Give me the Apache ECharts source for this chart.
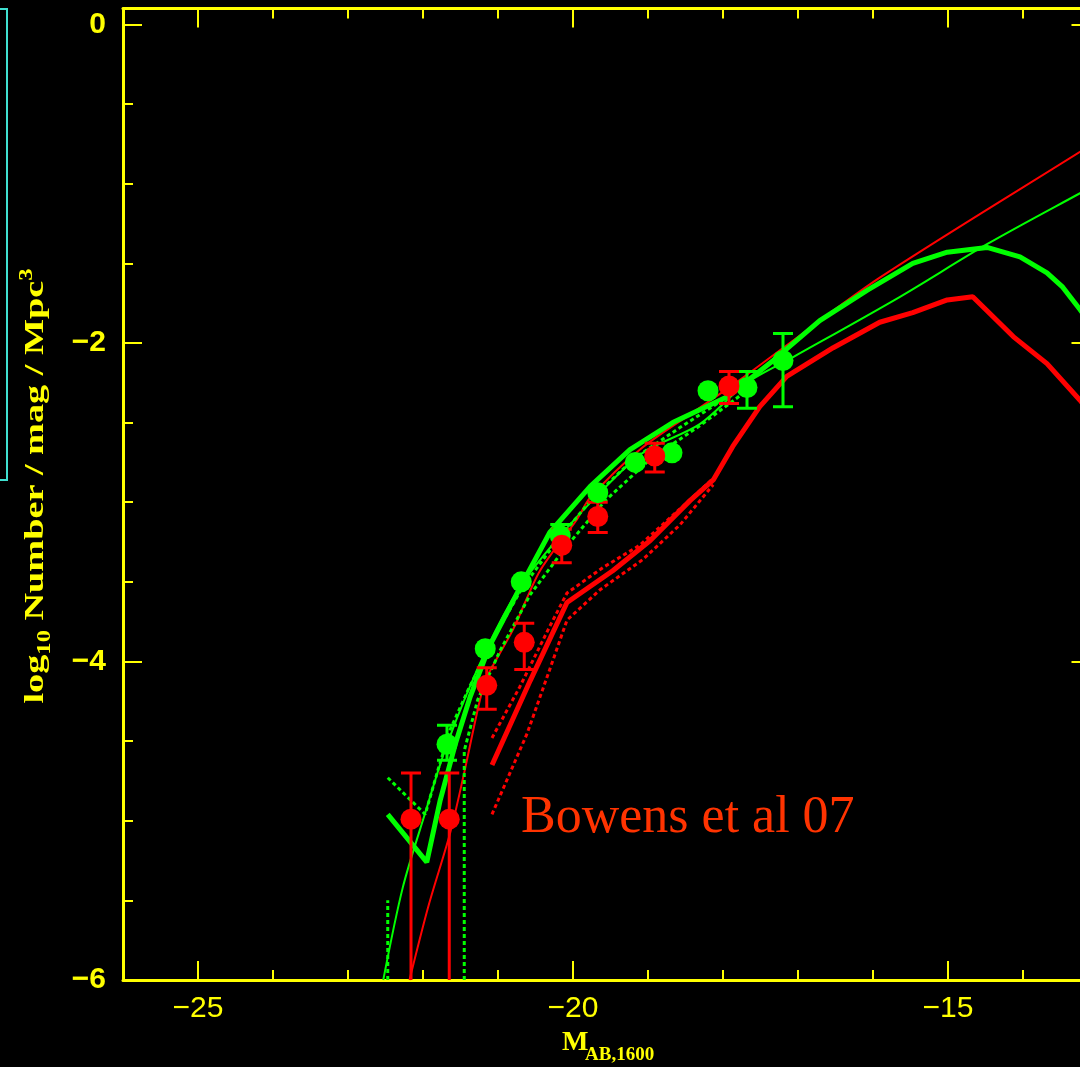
<!DOCTYPE html>
<html>
<head>
<meta charset="utf-8">
<script src="https://cdn.jsdelivr.net/npm/echarts@6/dist/echarts.min.js"></script>
<style>
html, body { margin: 0; padding: 0; background: #000; }
#chart { width: 1080px; height: 1067px; }
</style>
</head>
<body>
<div id="chart"></div>
<script>
// axis ticks
var xMajor = [-25, -20, -15];
var yMajor = [-6, -4, -2, 0];

// observed points [M, log phi]
var greenPts = [[-21.68, -4.52], [-21.17, -3.92], [-20.69, -3.50], [-20.17, -3.21], [-19.67, -2.94],
    [-19.17, -2.75], [-18.68, -2.69], [-18.20, -2.30], [-17.68, -2.28], [-17.20, -2.11]];
var redPts = [[-22.16, -4.99], [-21.65, -4.99], [-21.15, -4.15], [-20.65, -3.88], [-20.15, -3.27],
    [-19.67, -3.09], [-18.91, -2.71], [-17.92, -2.27]];

// error bars [M, low, high]
var greenErr = [[-21.68, -4.62, -4.40], [-20.17, -3.28, -3.14], [-17.68, -2.41, -2.18], [-17.20, -2.40, -1.94]];
var redErr = [[-22.16, -6.0, -4.70], [-21.65, -6.0, -4.70], [-21.15, -4.30, -4.04], [-20.65, -4.05, -3.76],
    [-20.15, -3.38, -3.17], [-19.67, -3.19, -3.00], [-18.91, -2.81, -2.63], [-17.92, -2.38, -2.18]];

// schechter fits (thin)
var greenFit = [[-22.53, -6.0], [-22.27, -5.42], [-21.97, -4.95], [-21.68, -4.52], [-21.17, -3.94],
    [-20.69, -3.52], [-20.17, -3.21], [-19.64, -2.94], [-19.07, -2.69], [-18.31, -2.51], [-17.68, -2.25],
    [-17.07, -2.09], [-15.64, -1.71], [-14.48, -1.38], [-13.24, -1.06], [-13.0, -1.0]];
var redFit = [[-22.18, -6.0], [-21.93, -5.54], [-21.64, -5.08], [-21.47, -4.74], [-21.24, -4.24],
    [-21.15, -4.10], [-20.80, -3.80], [-20.44, -3.43], [-19.95, -3.11], [-19.77, -2.97], [-19.11, -2.67],
    [-18.35, -2.42], [-17.77, -2.23], [-17.11, -2.00], [-15.91, -1.59], [-13.24, -0.80], [-13.0, -0.73]];

// model curves (bold)
var greenModel = [[-22.47, -4.96], [-21.95, -5.26], [-21.77, -4.87], [-21.57, -4.52], [-21.37, -4.22],
    [-21.11, -3.90], [-20.71, -3.54], [-20.31, -3.19], [-19.77, -2.90], [-19.24, -2.67], [-18.67, -2.50],
    [-17.95, -2.34], [-17.33, -2.11], [-16.71, -1.86], [-16.08, -1.67], [-15.47, -1.50], [-15.01, -1.43],
    [-14.48, -1.40], [-14.04, -1.46], [-13.68, -1.56], [-13.47, -1.65], [-13.24, -1.79], [-13.0, -1.95]];
var redModel = [[-21.08, -4.65], [-20.57, -4.12], [-20.08, -3.63], [-19.47, -3.43], [-18.97, -3.24],
    [-18.44, -2.99], [-18.13, -2.86], [-17.87, -2.65], [-17.51, -2.40], [-17.15, -2.21], [-16.53, -2.03],
    [-15.91, -1.87], [-15.47, -1.81], [-15.01, -1.73], [-14.67, -1.71], [-14.13, -1.96], [-13.68, -2.13],
    [-13.24, -2.36], [-13.0, -2.50]];

// model spread (dotted)
var greenLoA = [[-22.47, -4.73], [-21.97, -4.96], [-21.80, -4.68], [-21.64, -4.43], [-21.40, -4.18],
    [-21.08, -3.87], [-20.68, -3.54], [-20.21, -3.24], [-19.71, -2.96], [-19.17, -2.72], [-18.57, -2.53],
    [-17.91, -2.33]];
var greenLoB = [[-21.45, -6.0], [-21.45, -4.56], [-21.27, -4.24], [-20.97, -3.93], [-20.57, -3.58],
    [-20.11, -3.29], [-19.57, -2.99], [-18.97, -2.73], [-18.31, -2.52], [-17.77, -2.33]];
var greenLoC = [[-22.47, -6.0], [-22.47, -5.5]];
var redHi = [[-21.08, -4.48], [-20.71, -4.16], [-20.31, -3.78], [-20.08, -3.57], [-19.60, -3.41],
    [-19.11, -3.27], [-18.57, -3.04], [-18.13, -2.85]];
var redLo = [[-21.08, -4.96], [-20.61, -4.45], [-20.31, -4.05], [-20.08, -3.74], [-19.64, -3.55],
    [-19.07, -3.36], [-18.57, -3.14], [-18.13, -2.89]];

var YEL = '#ffff00', GRN = '#00ff00', RED = '#ff0000';

var chart = echarts.init(document.getElementById('chart'));

function minus(v) { return String(v).replace('-', '\u2212'); }

function errRender(color) {
    return function (params, api) {
        var x = api.value(0), lo = api.value(1), hi = api.value(2);
        var pHi = api.coord([x, hi]), pLo = api.coord([x, lo]);
        var w = 10;
        var st = { stroke: color, lineWidth: 3 };
        var kids = [
            { type: 'line', shape: { x1: pHi[0], y1: pHi[1], x2: pLo[0], y2: pLo[1] }, style: st },
            { type: 'line', shape: { x1: pHi[0] - w, y1: pHi[1], x2: pHi[0] + w, y2: pHi[1] }, style: st }
        ];
        if (lo > -6) {
            kids.push({ type: 'line', shape: { x1: pLo[0] - w, y1: pLo[1], x2: pLo[0] + w, y2: pLo[1] }, style: st });
        }
        return { type: 'group', children: kids };
    };
}

function line(data, color, width, dash, smooth) {
    return {
        type: 'line', data: data, xAxisIndex: 0, yAxisIndex: 0,
        showSymbol: false, symbol: 'none', smooth: smooth || false, silent: true,
        lineStyle: { color: color, width: width, type: dash || 'solid', opacity: 1 },
        z: 2
    };
}

// y title, stretched along its length like the original
var ctx = document.createElement('canvas').getContext('2d');
function tw(t, f) { ctx.font = f; return ctx.measureText(t).width; }
var yMain = 'bold 28px "Liberation Serif"', ySmall = 'bold 18px "Liberation Serif"';
var yLen = tw('log', yMain) + tw('10', ySmall) + tw(' Number / mag / Mpc', yMain) + tw('3', ySmall);
var yStretch = 435 / yLen;

var xBase = {
    type: 'value', min: -26, max: -13.1, splitLine: { show: false }
};
var yBase = {
    type: 'value', min: -6, max: 0.1, splitLine: { show: false }
};
var tickMajor = { color: YEL, width: 2 };

var option = {
    backgroundColor: '#000',
    animation: false,
    grid: { left: 123, top: 8.5, width: 967.5, height: 971.5, outerBoundsMode: 'none' },
    xAxis: [
        Object.assign({}, xBase, {
            position: 'bottom',
            axisLine: { onZero: false, lineStyle: { color: YEL, width: 3 } },
            axisTick: { inside: true, length: 19, customValues: xMajor, lineStyle: tickMajor },
            axisLabel: {
                customValues: xMajor, color: YEL, margin: 14, fontSize: 30,
                fontFamily: 'Liberation Sans', formatter: minus
            }
        }),
        Object.assign({}, xBase, {
            position: 'bottom', interval: 1,
            axisLine: { show: false, onZero: false },
            axisTick: { inside: true, length: 10, lineStyle: tickMajor },
            axisLabel: { show: false }
        }),
        Object.assign({}, xBase, {
            position: 'top',
            axisLine: { onZero: false, lineStyle: { color: YEL, width: 3 } },
            axisTick: { inside: true, length: 19, customValues: xMajor, lineStyle: tickMajor },
            axisLabel: { show: false }
        }),
        Object.assign({}, xBase, {
            position: 'top', interval: 1,
            axisLine: { show: false, onZero: false },
            axisTick: { inside: true, length: 10, lineStyle: tickMajor },
            axisLabel: { show: false }
        })
    ],
    yAxis: [
        Object.assign({}, yBase, {
            position: 'left',
            axisLine: { onZero: false, lineStyle: { color: YEL, width: 3 } },
            axisTick: { inside: true, length: 19, customValues: yMajor, lineStyle: tickMajor },
            axisLabel: {
                customValues: yMajor, color: YEL, margin: 17, fontSize: 30, fontWeight: 'bold',
                fontFamily: 'Liberation Sans', formatter: minus
            }
        }),
        Object.assign({}, yBase, {
            position: 'left', interval: 0.5,
            axisLine: { show: false, onZero: false },
            axisTick: { inside: true, length: 10, lineStyle: tickMajor },
            axisLabel: { show: false }
        }),
        Object.assign({}, yBase, {
            position: 'right',
            axisLine: { onZero: false, lineStyle: { color: YEL, width: 3 } },
            axisTick: { inside: true, length: 19, customValues: yMajor, lineStyle: tickMajor },
            axisLabel: { show: false }
        }),
        Object.assign({}, yBase, {
            position: 'right', interval: 0.5,
            axisLine: { show: false, onZero: false },
            axisTick: { inside: true, length: 10, lineStyle: tickMajor },
            axisLabel: { show: false }
        })
    ],
    graphic: [
        {
            type: 'rect', shape: { x: -20, y: 9, width: 27, height: 471 },
            style: { fill: 'none', stroke: '#40e0d0', lineWidth: 2 }
        },
        {
            type: 'text', x: 36, y: 486, rotation: Math.PI / 2, scaleX: yStretch,
            style: {
                text: '{a|log}{s|10}{a| Number / mag / Mpc}{p|3}',
                align: 'center', verticalAlign: 'middle',
                rich: {
                    a: { fontSize: 28, fontWeight: 'bold', fontFamily: 'Liberation Serif', fill: YEL, lineHeight: 36 },
                    s: { fontSize: 18, fontWeight: 'bold', fontFamily: 'Liberation Serif', fill: YEL, lineHeight: 18, verticalAlign: 'bottom' },
                    p: { fontSize: 18, fontWeight: 'bold', fontFamily: 'Liberation Serif', fill: YEL, lineHeight: 18, verticalAlign: 'top' }
                }
            }
        },
        {
            type: 'text', x: 562, y: 1043,
            style: { text: 'M', font: 'bold 28px "Liberation Serif"', fill: YEL, verticalAlign: 'middle' }
        },
        {
            type: 'text', x: 585, y: 1055,
            style: { text: 'AB,1600', font: 'bold 19px "Liberation Serif"', fill: YEL, verticalAlign: 'middle' }
        },
        {
            type: 'text', x: 521, y: 818, z: 10,
            style: { text: 'Bowens et al 07', font: '52px "Liberation Serif"', fill: '#ff3300', verticalAlign: 'middle' }
        }
    ],
    series: [
        line(greenFit, GRN, 2, 'solid', 0.3),
        line(redFit, RED, 2, 'solid', 0.3),
        line(greenModel, GRN, 5),
        line(redModel, RED, 5),
        line(greenLoA, GRN, 3, [4, 3]),
        line(greenLoB, GRN, 3, [4, 3]),
        line(greenLoC, GRN, 3, [4, 3]),
        line(redHi, RED, 3, [4, 3]),
        line(redLo, RED, 3, [4, 3]),
        {
            type: 'custom', data: greenErr, renderItem: errRender(GRN), clip: true,
            xAxisIndex: 0, yAxisIndex: 0, z: 3, silent: true
        },
        {
            type: 'custom', data: redErr, renderItem: errRender(RED), clip: true,
            xAxisIndex: 0, yAxisIndex: 0, z: 3, silent: true
        },
        {
            type: 'scatter', data: greenPts, symbol: 'circle', symbolSize: 21,
            itemStyle: { color: GRN, opacity: 1 }, z: 4, silent: true
        },
        {
            type: 'scatter', data: redPts, symbol: 'circle', symbolSize: 21,
            itemStyle: { color: RED, opacity: 1 }, z: 4, silent: true
        }
    ]
};

chart.setOption(option);
</script>
</body>
</html>
